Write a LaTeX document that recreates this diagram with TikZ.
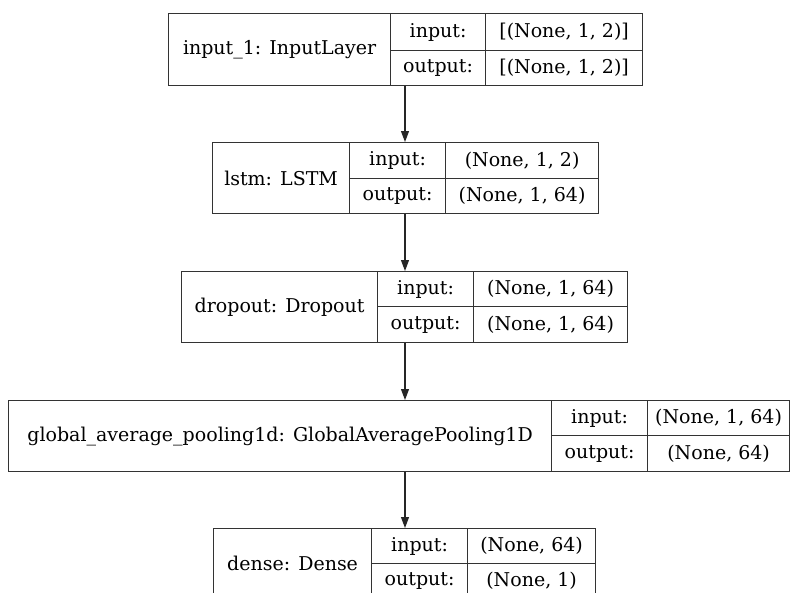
\documentclass[tikz,border=0pt]{standalone}
\usepackage{fontspec}
\setmainfont{DejaVu Serif}
\usetikzlibrary{arrows.meta}

\tikzset{
	cell/.style={draw=black!80, line width=1.2pt, inner sep=0pt, anchor=north west, font=\fontsize{19}{21}\selectfont},
	flow/.style={draw=black!85, line width=1.1pt, -{Triangle[length=11pt,width=8pt]}}
}

\begin{document}
\begin{tikzpicture}[x=1pt,y=-1pt]
	\useasboundingbox (0,0) rectangle (790,592);
	\coordinate (mid) at (405,0);
	
	% input layer
	\node[cell, minimum width=222, minimum height=72] (inp) at (168,13) {input\_1: InputLayer};
	\node[cell, minimum width=95, minimum height=37] (inp-i) at (390,13) {input:};
	\node[cell, minimum width=95, minimum height=35] (inp-o) at (390,50) {output:};
	\node[cell, minimum width=157, minimum height=37] (inp-iv) at (485,13) {[(None, 1, 2)]};
	\node[cell, minimum width=157, minimum height=35] (inp-ov) at (485,50) {[(None, 1, 2)]};
	
	% lstm
	\node[cell, minimum width=137, minimum height=71] (lstm) at (212,142) {lstm: LSTM};
	\node[cell, minimum width=96, minimum height=36] (lstm-i) at (349,142) {input:};
	\node[cell, minimum width=96, minimum height=35] (lstm-o) at (349,178) {output:};
	\node[cell, minimum width=153, minimum height=36] (lstm-iv) at (445,142) {(None, 1, 2)};
	\node[cell, minimum width=153, minimum height=35] (lstm-ov) at (445,178) {(None, 1, 64)};
	
	% dropout
	\node[cell, minimum width=196, minimum height=71] (drop) at (181,271) {dropout: Dropout};
	\node[cell, minimum width=96, minimum height=35] (drop-i) at (377,271) {input:};
	\node[cell, minimum width=96, minimum height=36] (drop-o) at (377,306) {output:};
	\node[cell, minimum width=154, minimum height=35] (drop-iv) at (473,271) {(None, 1, 64)};
	\node[cell, minimum width=154, minimum height=36] (drop-ov) at (473,306) {(None, 1, 64)};
	
	% pooling
	\node[cell, minimum width=543, minimum height=71] (pool) at (8,400) {global\_average\_pooling1d: GlobalAveragePooling1D};
	\node[cell, minimum width=96, minimum height=35] (pool-i) at (551,400) {input:};
	\node[cell, minimum width=96, minimum height=36] (pool-o) at (551,435) {output:};
	\node[cell, minimum width=142, minimum height=35] (pool-iv) at (647,400) {(None, 1, 64)};
	\node[cell, minimum width=142, minimum height=36] (pool-ov) at (647,435) {(None, 64)};
	
	% dense
	\node[cell, minimum width=158, minimum height=70] (dense) at (213,528) {dense: Dense};
	\node[cell, minimum width=96, minimum height=35] (dense-i) at (371,528) {input:};
	\node[cell, minimum width=96, minimum height=35] (dense-o) at (371,563) {output:};
	\node[cell, minimum width=128, minimum height=35] (dense-iv) at (467,528) {(None, 64)};
	\node[cell, minimum width=128, minimum height=35] (dense-ov) at (467,563) {(None, 1)};
	
	\draw[flow] (inp-o.south -| mid) -- (lstm-i.north -| mid);
	\draw[flow] (lstm-o.south -| mid) -- (drop-i.north -| mid);
	\draw[flow] (drop-o.south -| mid) -- (pool.north -| mid);
	\draw[flow] (pool.south -| mid) -- (dense-i.north -| mid);
\end{tikzpicture}
\end{document}
